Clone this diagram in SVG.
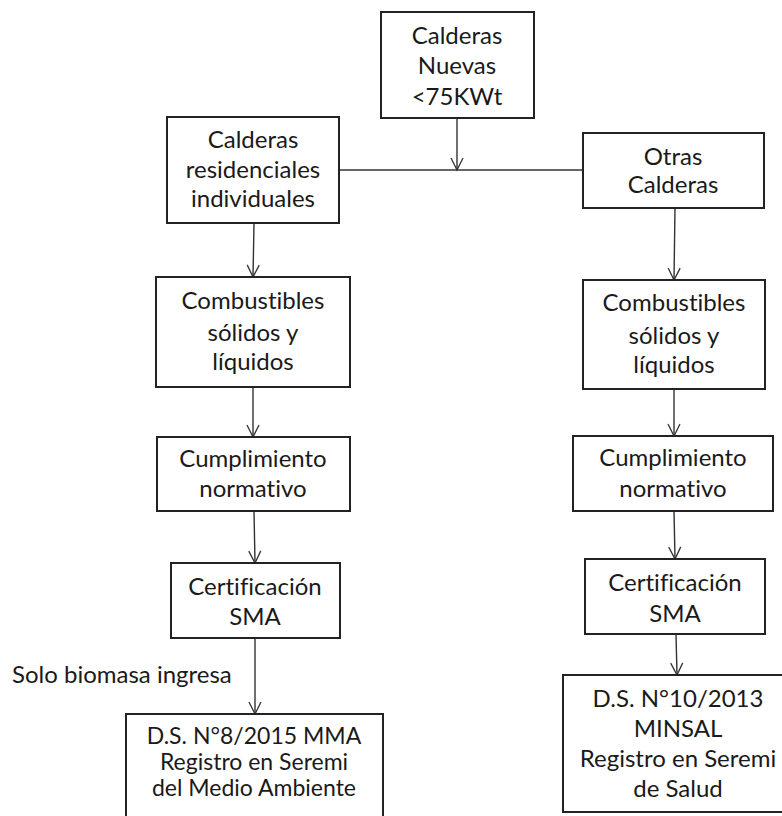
<svg xmlns="http://www.w3.org/2000/svg" width="782" height="816" viewBox="0 0 782 816">
<defs>
<marker id="arr" markerUnits="userSpaceOnUse" markerWidth="16" markerHeight="16" viewBox="-14 -8 16 16" refX="0" refY="0" orient="auto">
<path d="M-12,-6 L0,0 L-12,6" fill="none" stroke="#333" stroke-width="1.3"/>
</marker>
</defs>
<style>
.box{fill:#fff;stroke:#222;stroke-width:2}
.t{font-family:Lato,"Open Sans","Liberation Sans",sans-serif;font-size:24px;fill:#1a1a1a;text-anchor:middle;font-variant-ligatures:none;font-feature-settings:"liga" 0}
.s{font-size:23px}
.l{text-anchor:start}
.c{fill:none;stroke:#333;stroke-width:1.4}
</style>
<rect width="782" height="816" fill="#fff"/>
<g id="connectors">
<line class="c" x1="457" y1="118" x2="457" y2="170" marker-end="url(#arr)"/>
<line class="c" x1="339" y1="170" x2="583" y2="170"/>
<line class="c" x1="254" y1="223" x2="253" y2="277" marker-end="url(#arr)"/>
<line class="c" x1="675" y1="208" x2="674" y2="280" marker-end="url(#arr)"/>
<line class="c" x1="253" y1="387" x2="253" y2="437" marker-end="url(#arr)"/>
<line class="c" x1="674" y1="389" x2="674" y2="436" marker-end="url(#arr)"/>
<line class="c" x1="254" y1="511" x2="255" y2="563" marker-end="url(#arr)"/>
<line class="c" x1="674" y1="511" x2="675" y2="559" marker-end="url(#arr)"/>
<line class="c" x1="255" y1="638" x2="255" y2="714" marker-end="url(#arr)"/>
<line class="c" x1="676" y1="634" x2="677" y2="675" marker-end="url(#arr)"/>
</g>
<g id="n_nuevas">
<rect class="box" x="381" y="12" width="153" height="106"/>
<text class="t" x="457" y="44">Calderas</text>
<text class="t" x="457" y="74">Nuevas</text>
<text class="t" x="457" y="105">&lt;75KWt</text>
</g>
<g id="n_residenciales">
<rect class="box" x="167" y="117" width="172" height="106"/>
<text class="t" x="253" y="148">Calderas</text>
<text class="t" x="253" y="178">residenciales</text>
<text class="t" x="253" y="207">individuales</text>
</g>
<g id="n_otras">
<rect class="box" x="583" y="133" width="181" height="75"/>
<text class="t" x="673" y="165">Otras</text>
<text class="t" x="673" y="193">Calderas</text>
</g>
<g id="n_comb_l">
<rect class="box" x="156" y="277" width="194" height="110"/>
<text class="t" x="253" y="309">Combustibles</text>
<text class="t" x="253" y="341">sólidos y</text>
<text class="t" x="253" y="370">líquidos</text>
</g>
<g id="n_comb_r">
<rect class="box" x="583" y="280" width="182" height="109"/>
<text class="t" x="674" y="311">Combustibles</text>
<text class="t" x="674" y="344">sólidos y</text>
<text class="t" x="674" y="373">líquidos</text>
</g>
<g id="n_cumpl_l">
<rect class="box" x="157" y="437" width="193" height="74"/>
<text class="t" x="253" y="467">Cumplimiento</text>
<text class="t" x="253" y="497">normativo</text>
</g>
<g id="n_cumpl_r">
<rect class="box" x="573" y="436" width="200" height="75"/>
<text class="t" x="673" y="466">Cumplimiento</text>
<text class="t" x="673" y="497">normativo</text>
</g>
<g id="n_cert_l">
<rect class="box" x="171" y="563" width="169" height="75"/>
<text class="t" x="255" y="595">Certificación</text>
<text class="t" x="255" y="625">SMA</text>
</g>
<g id="n_cert_r">
<rect class="box" x="585" y="559" width="180" height="75"/>
<text class="t" x="675" y="591">Certificación</text>
<text class="t" x="675" y="622">SMA</text>
</g>
<g id="n_ds8">
<rect class="box" x="126" y="714" width="257" height="110"/>
<text class="t s" x="254" y="744">D.S. N°8/2015 MMA</text>
<text class="t s" x="254" y="770">Registro en Seremi</text>
<text class="t s" x="254" y="796">del Medio Ambiente</text>
</g>
<g id="n_ds10">
<rect class="box" x="563" y="675" width="230" height="137"/>
<text class="t" x="678" y="707">D.S. N°10/2013</text>
<text class="t" x="678" y="737">MINSAL</text>
<text class="t" x="678" y="767">Registro en Seremi</text>
<text class="t" x="678" y="797">de Salud</text>
</g>
<text class="t l" x="12" y="683">Solo biomasa ingresa</text>
</svg>
